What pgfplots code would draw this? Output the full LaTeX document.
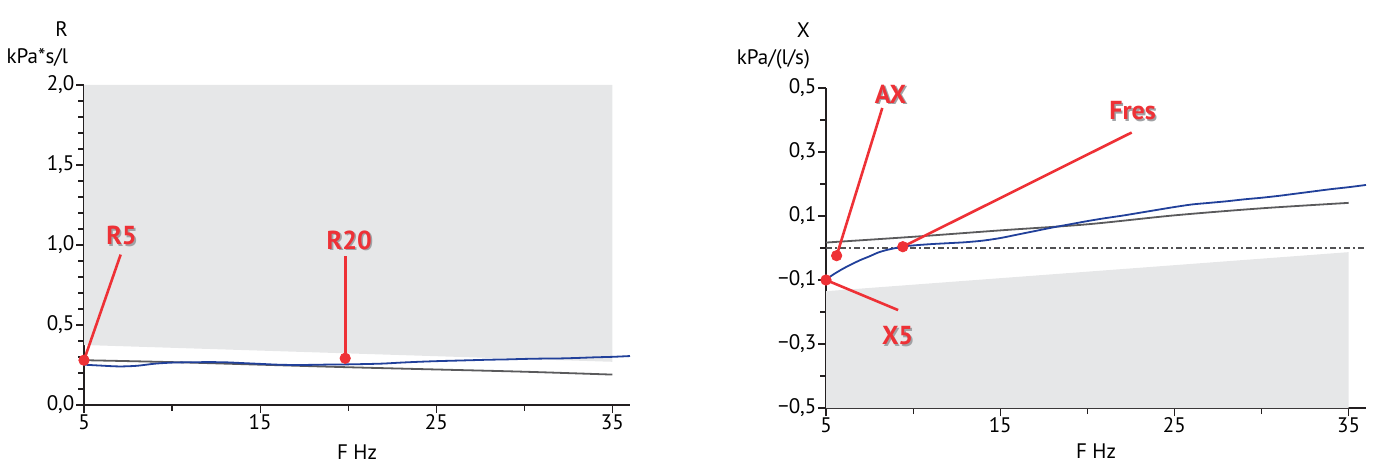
\documentclass[border=0pt]{standalone}
\usepackage{fontspec}
\setmainfont{PT Sans}
\usepackage{pgfplots}
\pgfplotsset{compat=1.18}

\definecolor{annred}{HTML}{EE3136}
\definecolor{annshadow}{HTML}{A0A2A5}
\definecolor{zone}{HTML}{E6E7E8}
\definecolor{measblue}{HTML}{21409A}
\definecolor{predgray}{HTML}{5A5A5C}
\definecolor{axisblack}{HTML}{231F20}

% red label with a grey drop shadow
\newcommand{\ann}[3]{%
  \node[text=annshadow,font=\fontsize{13}{15}\selectfont\bfseries,xshift=0.8pt,yshift=-0.8pt] at (axis cs:#1,#2) {#3};
  \node[text=annred,font=\fontsize{13}{15}\selectfont\bfseries] at (axis cs:#1,#2) {#3};}

\pgfplotsset{
  osc/.style={
    scale only axis, height=160pt, clip=false,
    axis x line*=bottom, axis y line*=left,
    x axis line style={line width=1pt,color=axisblack},
    y axis line style={line width=0.6pt,color=axisblack},
    tick align=outside, major tick length=4pt, minor tick length=3pt,
    tick style={color=axisblack,line width=0.6pt},
    every tick label/.append style={font=\fontsize{10.5}{12}\selectfont,inner sep=0.6pt},
    xmin=5, xmax=36,
    xtick={5,15,25,35}, xticklabels={5,15,25,35},
    minor xtick={10,20,30},
    xlabel={F Hz},
    xlabel style={font=\fontsize{10.5}{12}\selectfont,at={(axis description cs:0.5,0)},anchor=center,yshift=-23.5pt},
  },
}

\begin{document}
\begin{tikzpicture}
\useasboundingbox (-42pt,-30pt) rectangle (647.5pt,202.5pt);

% ---- resistance
\begin{axis}[osc, width=273pt, ymin=0, ymax=2,
  ytick={0,0.5,1,1.5,2}, yticklabels={{0,0},{0,5},{1,0},{1,5},{2,0}},
  minor ytick={0.1,0.2,0.3,0.4,0.6,0.7,0.8,0.9,1.1,1.2,1.3,1.4,1.6,1.7,1.8,1.9}]
\addplot[draw=none,fill=zone] coordinates {(5,0.375) (35,0.27) (35,2) (5,2)} -- cycle;
\addplot[predgray,line width=0.9pt,smooth] coordinates {(5,0.280) (10,0.268) (15,0.252) (20,0.236) (25,0.222) (30,0.208) (35,0.190)};
\addplot[measblue,line width=0.9pt,smooth] coordinates {(5,0.252) (6,0.246) (7,0.241) (8,0.245) (9,0.258) (10,0.265) (11,0.267) (12,0.268) (13,0.267) (14,0.262) (15,0.257) (16,0.252) (17,0.250) (18,0.251) (19,0.253) (20,0.254) (21,0.256) (22,0.259) (23,0.265) (24,0.270) (25,0.274) (26,0.277) (27,0.280) (28,0.283) (29,0.285) (30,0.288) (31,0.290) (32,0.291) (33,0.294) (34,0.298) (35,0.301) (36,0.306)};
\addplot[annred,line width=1.3pt] coordinates {(5,0.28) (7.08,0.94)};
\addplot[annred,line width=1.3pt] coordinates {(19.83,0.292) (19.83,0.93)};
\addplot[annred,only marks,mark=*,mark size=2.6pt] coordinates {(5,0.28) (19.83,0.292)};
\ann{7.13}{1.06}{R5}
\ann{20.06}{1.03}{R20}
\node[anchor=east,font=\fontsize{10.5}{12}\selectfont] at (rel axis cs:0,1) [xshift=-4.5pt,yshift=28pt] {R};
\node[anchor=east,font=\fontsize{10.5}{12}\selectfont] at (rel axis cs:0,1) [xshift=-4.5pt,yshift=14pt] {kPa*s/l};
\end{axis}

% ---- reactance
\begin{axis}[osc, at={(371pt,-1.5pt)}, width=270pt, ymin=-0.5, ymax=0.5,
  xlabel style={yshift=2pt},
  ytick={-0.5,-0.3,-0.1,0.1,0.3,0.5},
  yticklabels={{−0,5},{−0,3},{−0,1},{0,1},{0,3},{0,5}},
  minor ytick={-0.4,-0.2,0,0.2,0.4}]
\addplot[draw=none,fill=zone] coordinates {(5,-0.5) (35,-0.5) (35,-0.013) (5,-0.135)} -- cycle;
\addplot[predgray!90!black,line width=0.6pt,dash pattern=on 3pt off 1.5pt on 1pt off 1.5pt] coordinates {(5,0) (36,0)};
\addplot[predgray,line width=0.9pt,smooth] coordinates {(5,0.017) (10,0.035) (15,0.055) (20,0.074) (25,0.102) (30,0.124) (35,0.141)};
\addplot[measblue,line width=0.9pt,smooth] coordinates {(5,-0.098) (5.5,-0.080) (6,-0.064) (6.5,-0.050) (7,-0.037) (7.5,-0.026) (8,-0.014) (8.5,-0.006) (9,0.000) (9.5,0.005) (10,0.008) (11,0.012) (12,0.015) (13,0.018) (14,0.023) (15,0.031) (16,0.042) (17,0.053) (18,0.064) (19,0.074) (20,0.084) (21,0.093) (22,0.101) (23,0.110) (24,0.119) (25,0.128) (26,0.136) (27,0.141) (28,0.146) (29,0.152) (30,0.157) (31,0.163) (32,0.170) (33,0.177) (34,0.184) (35,0.190) (36,0.197)};
\addplot[annred,line width=1.3pt] coordinates {(5.61,-0.024) (8.23,0.4375)};
\addplot[annred,line width=1.3pt] coordinates {(9.41,0.004) (22.55,0.361)};
\addplot[annred,line width=1.3pt] coordinates {(5,-0.1) (9.14,-0.194)};
\addplot[annred,only marks,mark=*,mark size=2.6pt] coordinates {(5.61,-0.024) (9.41,0.004) (5,-0.1)};
\ann{8.70}{0.481}{AX}
\ann{22.6}{0.428}{Fres}
\ann{9.11}{-0.275}{X5}
\node[anchor=east,font=\fontsize{10.5}{12}\selectfont] at (rel axis cs:0,1) [xshift=-4.5pt,yshift=29pt] {X};
\node[anchor=east,font=\fontsize{10.5}{12}\selectfont] at (rel axis cs:0,1) [xshift=-4.5pt,yshift=14.5pt] {kPa/(l/s)};
\end{axis}
\end{tikzpicture}
\end{document}
